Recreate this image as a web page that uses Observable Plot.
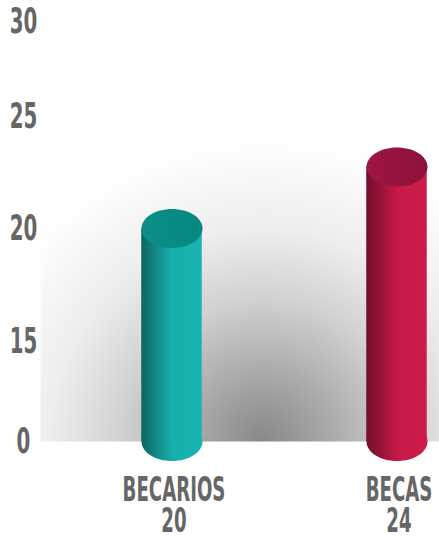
<!DOCTYPE html>
<html>
<head>
<meta charset="utf-8">
<script src="https://cdn.jsdelivr.net/npm/d3@7"></script>
<script src="https://cdn.jsdelivr.net/npm/@observablehq/plot@0.6"></script>
<style>
  html, body { margin: 0; padding: 0; background: #fff; }
  #chart svg { display: block; }
</style>
</head>
<body>
<div id="chart"></div>
<script>
// ---- data ----
const categories = ["BECARIOS", "BECAS"];
const values = [20, 24];
const keys = ["teal", "red"];
const yTicks = [0, 15, 20, 25, 30];

const data = categories.map((c, i) => ({category: c, value: values[i], key: keys[i]}));

// ---- style ----
const FONT = "'DejaVu Sans', sans-serif";
const GREY = "#666666";
const SQUEEZE = 0.55; // condensed look

// the original's axis is not linear: piecewise mapping of values to visual height
const warp = d3.scaleLinear().domain([0, 15, 20, 24, 25, 30]).range([0, 100, 213, 274.5, 325, 420]);

// ellipse symbol (rx = r, ry = 0.64 r)
const ellipse = {
  draw(ctx, size) {
    const rx = Math.sqrt(size / Math.PI), ry = rx * 0.64, k = 0.5522847;
    ctx.moveTo(rx, 0);
    ctx.bezierCurveTo(rx, ry * k, rx * k, ry, 0, ry);
    ctx.bezierCurveTo(-rx * k, ry, -rx, ry * k, -rx, 0);
    ctx.bezierCurveTo(-rx, -ry * k, -rx * k, -ry, 0, -ry);
    ctx.bezierCurveTo(rx * k, -ry, rx, -ry * k, rx, 0);
    ctx.closePath();
  }
};

const chart = Plot.plot({
  width: 439,
  height: 540,
  marginLeft: 40,
  marginRight: 0,
  marginTop: 0,
  marginBottom: 99,
  style: {fontFamily: FONT, fontWeight: "bold", background: "transparent"},
  x: {domain: categories, range: [58.25, 509.25], padding: 0, axis: null},
  y: {domain: [0, 420], range: [441, 21], transform: warp, axis: null, label: null},
  color: {type: "identity"},
  marks: [
    Plot.frame({fill: "url(#shadow)", stroke: null}),
    Plot.axisY(yTicks, {tickSize: 0, tickPadding: 17, textAnchor: "middle", fontSize: 36, fill: GREY, fontWeight: "bold", label: null}),
    // bottom ellipse
    Plot.dot(data, {x: "category", y: () => 0, r: 30.5, symbol: ellipse, fill: d => `url(#body-${d.key})`, stroke: null}),
    // body
    Plot.barY(data, {x: "category", y: "value", insetLeft: 82.25, insetRight: 82.25, fill: d => `url(#body-${d.key})`}),
    // top ellipse
    Plot.dot(data, {x: "category", y: "value", r: 30.5, symbol: ellipse, fill: d => `url(#top-${d.key})`, stroke: null}),
    // labels
    Plot.text(data, {x: "category", frameAnchor: "bottom", lineAnchor: "middle", dx: 2, dy: 49, text: "category", fontSize: 33, fill: GREY, fontWeight: "bold"}),
    Plot.text(data, {x: "category", frameAnchor: "bottom", lineAnchor: "middle", dx: 2, dy: 80, text: d => String(d.value), fontSize: 33, fill: GREY, fontWeight: "bold"})
  ]
});

// gradients
const svg = d3.select(chart);
const defs = svg.insert("defs", ":first-child");
const rg = defs.append("radialGradient").attr("id", "shadow").attr("gradientUnits", "userSpaceOnUse")
  .attr("cx", 262).attr("cy", 441).attr("r", 305);
[[0, "#888888"], [0.2, "#a6a6a6"], [0.47, "#d2d2d2"], [0.7, "#eeeeee"], [1, "#ffffff"]]
  .forEach(([o, c]) => rg.append("stop").attr("offset", o).attr("stop-color", c));

const bodyStops = {
  teal: [[0, "#0e6462"], [0.25, "#128a87"], [0.5, "#17afac"], [1, "#18b5b2"]],
  red:  [[0, "#730e2c"], [0.25, "#9a1439"], [0.5, "#c51a48"], [1, "#cd1c4c"]]
};
const topStops = {
  teal: [[0, "#0a8f88"], [1, "#088680"]],
  red:  [[0, "#9e1644"], [1, "#8c1238"]]
};
for (const k of keys) {
  const g = defs.append("linearGradient").attr("id", `body-${k}`).attr("x1", 0).attr("x2", 1).attr("y1", 0).attr("y2", 0);
  bodyStops[k].forEach(([o, c]) => g.append("stop").attr("offset", o).attr("stop-color", c));
  const t = defs.append("linearGradient").attr("id", `top-${k}`).attr("x1", 0).attr("x2", 1).attr("y1", 0).attr("y2", 0);
  topStops[k].forEach(([o, c]) => t.append("stop").attr("offset", o).attr("stop-color", c));
}

document.getElementById("chart").appendChild(chart);

// condense the glyphs horizontally
svg.selectAll("text").each(function () {
  const w = this.getComputedTextLength();
  if (w > 0) {
    this.setAttribute("textLength", (w * SQUEEZE).toFixed(1));
    this.setAttribute("lengthAdjust", "spacingAndGlyphs");
  }
});
</script>
</body>
</html>
